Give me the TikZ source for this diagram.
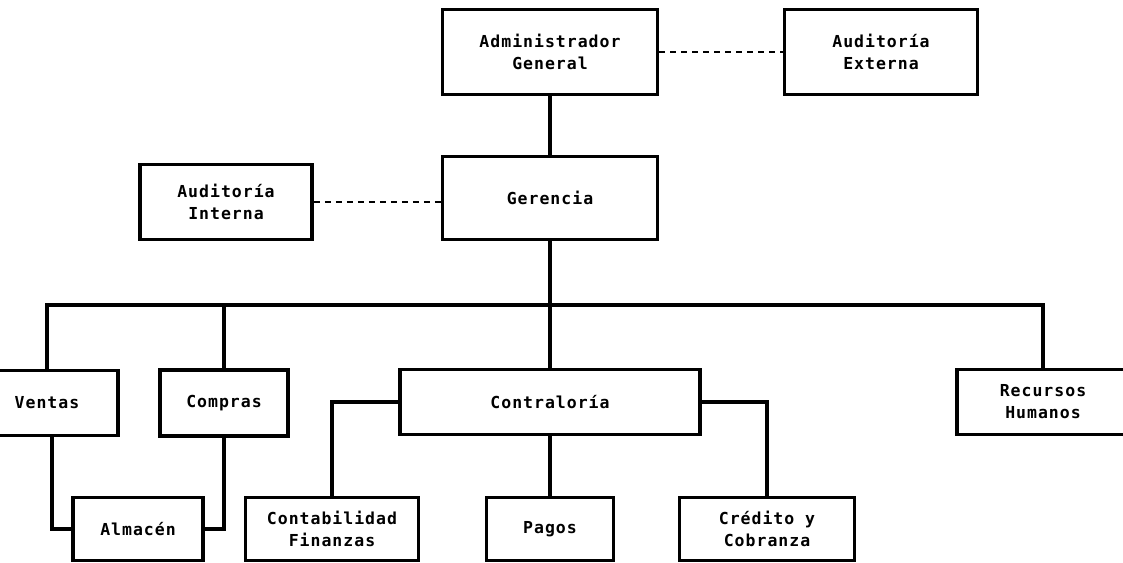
\documentclass[tikz,border=0pt]{standalone}
\usepackage{fontspec}
\usepackage{tikz}
\newfontfamily\orgfont[LetterSpace=6]{DejaVu Sans Mono}
\tikzset{
    unit/.style={draw, line width=3.8pt, align=center, inner sep=2pt,
        font=\orgfont\bfseries\fontsize{16.5}{22}\selectfont},
    link/.style={line width=3.2pt},
    staff/.style={line width=2.6pt, dash pattern=on 6pt off 5pt}
}
\begin{document}
\begin{tikzpicture}[x=1pt, y=-1pt]
    \useasboundingbox (0, 0) rectangle (1123, 562);
    \clip (0, 0) rectangle (1123, 562);

    % Top management
    \node[unit, minimum width=215, minimum height=85] (adm) at (550, 52) {Administrador\\General};
    \node[unit, minimum width=193, minimum height=85] (ext) at (881, 52) {Auditoría\\Externa};
    \node[unit, minimum width=215, minimum height=83] (ger) at (550, 198) {Gerencia};
    \node[unit, minimum width=172, minimum height=75] (int) at (226, 202) {Auditoría\\Interna};

    % Departments
    \node[unit, minimum width=142, minimum height=65] (ven) at (47, 403) {Ventas};
    \node[unit, minimum width=128, minimum height=66] (com) at (224, 403) {Compras};
    \node[unit, minimum width=300, minimum height=65] (ctr) at (550, 402) {Contraloría};
    \node[unit, minimum width=172, minimum height=65] (rh) at (1043, 402) {Recursos\\Humanos};

    % Lower level
    \node[unit, minimum width=130, minimum height=63] (alm) at (138, 529) {Almacén};
    \node[unit, minimum width=173, minimum height=63] (cnt) at (332, 529) {Contabilidad\\Finanzas};
    \node[unit, minimum width=127, minimum height=63] (pag) at (550, 529) {Pagos};
    \node[unit, minimum width=175, minimum height=63] (cre) at (767, 529) {Crédito y\\Cobranza};

    % Lines of authority
    \coordinate (bus) at (550, 305);
    \draw[link] (adm) -- (ger);
    \draw[link] (ger) -- (ctr);
    \draw[link] (ven.north) |- (bus) -| (rh.north);
    \draw[link] (com.north) -- (com.north |- bus);
    \draw[link] ([xshift=5pt]ven.south) |- (alm.west);
    \draw[link] (com.south) |- (alm.east);
    \draw[link] (ctr.west) -| (cnt.north);
    \draw[link] (ctr.east) -| (cre.north);
    \draw[link] (ctr) -- (pag);

    % Staff (dotted) lines
    \draw[staff] (adm.east) -- (ext.west);
    \draw[staff] (int.east) -- (int.east -| ger.west);
\end{tikzpicture}
\end{document}
